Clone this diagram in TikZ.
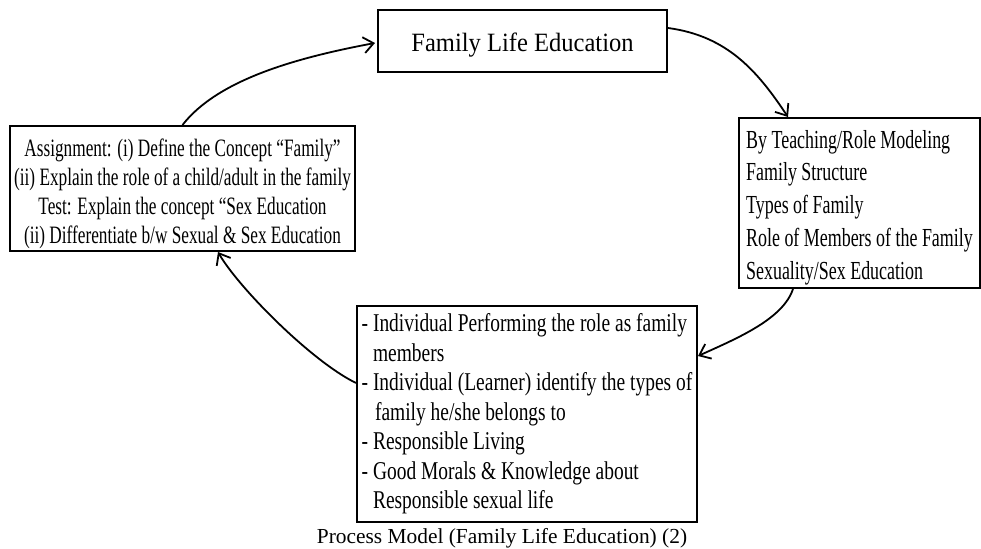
\documentclass[tikz,border=0pt]{standalone}
\usepackage{fontspec}
\setmainfont{Liberation Serif}
\newfontfamily\condA[FakeStretch=0.69]{Liberation Serif}
\newfontfamily\condB[FakeStretch=0.76]{Liberation Serif}
\newfontfamily\condT[FakeStretch=0.93]{Liberation Serif}
\usetikzlibrary{arrows.meta,calc}
\begin{document}
\begin{tikzpicture}[x=0.5pt,y=-0.5pt,
  box/.style={draw, line width=1pt, inner sep=0pt},
  conn/.style={line width=0.9pt, -{Straight Barb[length=5pt,width=8pt,line width=0.9pt]}}]
\useasboundingbox (0,0) rectangle (981,549);
\fill[white] (0,0) rectangle (981,549);

\node[box, minimum width=144.5pt, minimum height=31pt,
      font=\condT\fontsize{13.2}{15}\selectfont] (top) at (522.5,41) {\rule{0pt}{13pt}Family Life Education};

\node[box, minimum width=172.5pt, minimum height=62.5pt, align=center,
      font=\condA\fontsize{12.5}{14.5}\selectfont] (left) at (182.5,188.5)
  {\rule{0pt}{14pt}Assignment: (i) Define the Concept “Family”\\
   (ii) Explain the role of a child/adult in the family\\
   Test: Explain the concept “Sex Education\\
   (ii) Differentiate b/w Sexual \& Sex Education};

\node[box, minimum width=120.5pt, minimum height=85pt, align=left,
      font=\condA\fontsize{13}{16.4}\selectfont] (right) at (859.5,203)
  {\rule{0pt}{13.5pt}By Teaching/Role Modeling\\
   Family Structure\\
   Types of Family\\
   Role of Members of the Family\\
   Sexuality/Sex Education};

\node[box, minimum width=170pt, minimum height=108pt, align=left,
      font=\condB\fontsize{12.8}{14.75}\selectfont] (bottom) at (527,414)
  {- Individual Performing the role as family\\
   \phantom{- }members\\
   - Individual (Learner) identify the types of\\
   \phantom{- }\hspace{1pt}family he/she belongs to\\
   - Responsible Living\\
   - Good Morals \& Knowledge about\\
   \phantom{- }Responsible sexual life};

\node[font=\fontsize{10.7}{12}\selectfont] (cap) at (502,538)
  {Process Model (Family Life Education) (2)};

\draw[conn] (left.north) .. controls +(35,-45) and +(-80,15) .. ($(top.west)+(-2,2)$);
\draw[conn] ($(top.east)+(0,-13)$) .. controls +(60,8) and +(-30,-45) .. ($(right.north)+(-71.5,0)$);
\draw[conn] ($(right.south)+(-66.5,0)$) .. controls +(-10,30) and +(40,-18) .. ($(bottom.north east)+(0,51)$);
\draw[conn] ($(bottom.north west)+(0,78)$) .. controls +(-45,-22) and +(20,35) .. ($(left.south)+(35.5,0)$);
\end{tikzpicture}
\end{document}
